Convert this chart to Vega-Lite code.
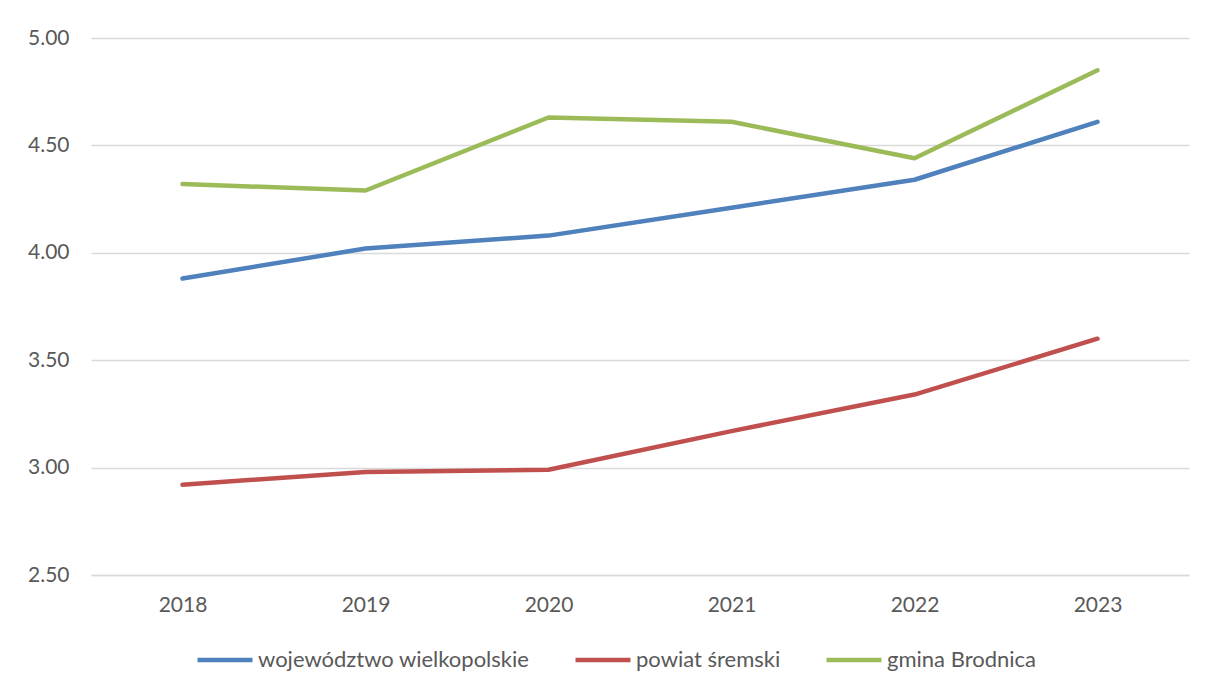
{
  "$schema": "https://vega.github.io/schema/vega-lite/v6.json",
  "width": 1098,
  "height": 537,
  "autosize": {"type": "none"},
  "padding": {"left": 91, "top": 38, "right": 16, "bottom": 113},
  "background": "white",
  "data": {
    "values": [
      {"rok": "2018", "seria": "województwo wielkopolskie", "wartosc": 3.88},
      {"rok": "2019", "seria": "województwo wielkopolskie", "wartosc": 4.02},
      {"rok": "2020", "seria": "województwo wielkopolskie", "wartosc": 4.08},
      {"rok": "2021", "seria": "województwo wielkopolskie", "wartosc": 4.21},
      {"rok": "2022", "seria": "województwo wielkopolskie", "wartosc": 4.34},
      {"rok": "2023", "seria": "województwo wielkopolskie", "wartosc": 4.61},
      {"rok": "2018", "seria": "powiat śremski", "wartosc": 2.92},
      {"rok": "2019", "seria": "powiat śremski", "wartosc": 2.98},
      {"rok": "2020", "seria": "powiat śremski", "wartosc": 2.99},
      {"rok": "2021", "seria": "powiat śremski", "wartosc": 3.17},
      {"rok": "2022", "seria": "powiat śremski", "wartosc": 3.34},
      {"rok": "2023", "seria": "powiat śremski", "wartosc": 3.60},
      {"rok": "2018", "seria": "gmina Brodnica", "wartosc": 4.32},
      {"rok": "2019", "seria": "gmina Brodnica", "wartosc": 4.29},
      {"rok": "2020", "seria": "gmina Brodnica", "wartosc": 4.63},
      {"rok": "2021", "seria": "gmina Brodnica", "wartosc": 4.61},
      {"rok": "2022", "seria": "gmina Brodnica", "wartosc": 4.44},
      {"rok": "2023", "seria": "gmina Brodnica", "wartosc": 4.85}
    ]
  },
  "mark": {"type": "line", "strokeWidth": 4.5, "strokeCap": "round", "strokeJoin": "round"},
  "encoding": {
    "x": {
      "field": "rok",
      "type": "ordinal",
      "scale": {"type": "point", "padding": 0.5},
      "axis": {
        "title": null,
        "labelAngle": 0,
        "ticks": false,
        "domain": true,
        "domainColor": "#d9d9d9",
        "domainWidth": 1.5,
        "labelPadding": 19,
        "labelFontSize": 21,
        "labelColor": "#595959",
        "labelFont": "Lato"
      }
    },
    "y": {
      "field": "wartosc",
      "type": "quantitative",
      "scale": {"domain": [2.5, 5.0], "nice": false, "zero": false},
      "axis": {
        "title": null,
        "values": [2.5, 3.0, 3.5, 4.0, 4.5, 5.0],
        "format": ".2f",
        "ticks": false,
        "domain": false,
        "grid": true,
        "gridColor": "#d9d9d9",
        "gridWidth": 1.5,
        "labelPadding": 22,
        "labelFontSize": 21,
        "labelColor": "#595959",
        "labelFont": "Lato"
      }
    },
    "color": {
      "field": "seria",
      "type": "nominal",
      "sort": ["województwo wielkopolskie", "powiat śremski", "gmina Brodnica"],
      "scale": {
        "domain": ["województwo wielkopolskie", "powiat śremski", "gmina Brodnica"],
        "range": ["#4f81bd", "#c0504d", "#9bbb59"]
      },
      "legend": {
        "title": null,
        "orient": "none",
        "direction": "horizontal",
        "legendX": 104,
        "legendY": 592,
        "symbolType": "stroke",
        "symbolSize": 3025,
        "symbolStrokeWidth": 4.5,
        "labelFontSize": 22,
        "labelLimit": 500,
        "labelColor": "#595959",
        "labelFont": "Lato",
        "labelOffset": 3,
        "columnPadding": 36
      }
    }
  },
  "config": {
    "view": {"stroke": null}
  }
}
